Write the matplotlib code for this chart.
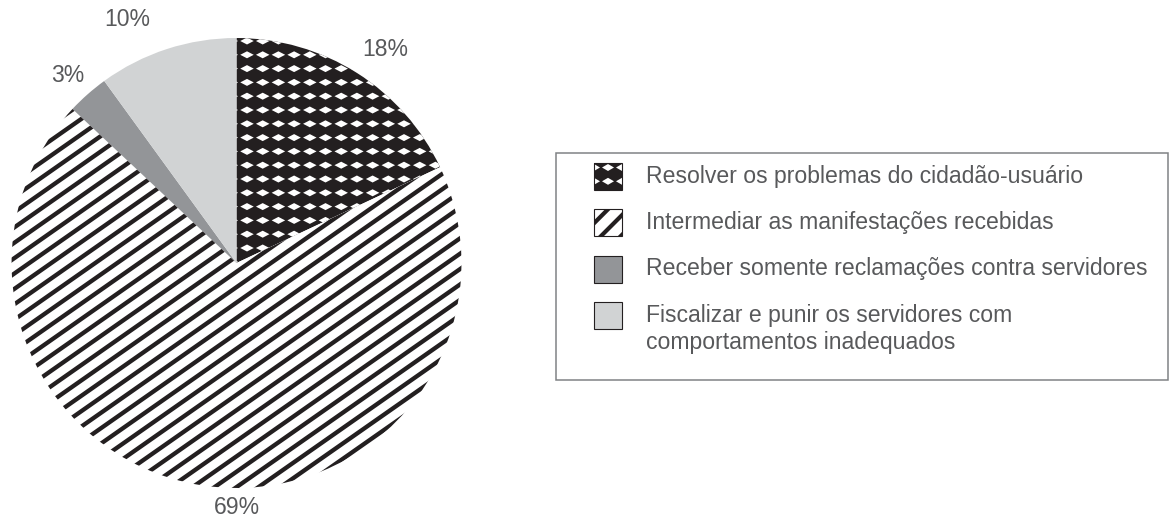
import numpy as np
import matplotlib
matplotlib.use("Agg")
import matplotlib.pyplot as plt
from matplotlib.patches import Rectangle
from matplotlib.collections import LineCollection, PolyCollection

plt.rcParams['font.family'] = ['Liberation Sans', 'DejaVu Sans']

# Data
categories = [
    "Resolver os problemas do cidadão-usuário",
    "Intermediar as manifestações recebidas",
    "Receber somente reclamações contra servidores",
    "Fiscalizar e punir os servidores com\ncomportamentos inadequados",
]
values = [18, 69, 3, 10]
pct_labels = ["18%", "69%", "3%", "10%"]
fills = ["#231f20", "white", "#939598", "#d1d3d4"]
patterns = ["diamonds", "stripes", None, None]

# Layout (pixel coordinates, y down)
W, H = 1171, 521
CX, CY, R = 236.5, 263, 225
label_pos = [(385, 50), (237, 507), (68, 76), (127, 19)]
TEXT_COLOR = "#58595b"
FS = 16.6


def diamond_coll(x0, x1, y0, y1, dx=15.7, dy=13.8, w=13.5, h=7.0):
    polys = []
    for yy in np.arange(y0, y1 + dy, dy):
        for xx in np.arange(x0, x1 + dx, dx):
            polys.append([(xx - w / 2, yy), (xx, yy - h / 2), (xx + w / 2, yy), (xx, yy + h / 2)])
    return PolyCollection(polys, facecolors="white", edgecolors="none")


def stripe_coll(cx, cy, size, angle=35, spacing=12.6, lw=3.1, phase=0.0):
    a = np.radians(angle)
    u = np.array([np.cos(a), -np.sin(a)])
    n = np.array([np.sin(a), np.cos(a)])
    segs = []
    for k in np.arange(-size, size + spacing, spacing):
        p = np.array([cx, cy]) + n * (k + phase)
        segs.append([p - u * size * 1.5, p + u * size * 1.5])
    return LineCollection(segs, colors="#231f20", linewidths=lw, capstyle="butt")


fig = plt.figure(figsize=(W / 100, H / 100), dpi=100)
ax = fig.add_axes([0, 0, 1, 1])

wedges, _ = ax.pie(values, center=(CX, CY), radius=R, startangle=-90,
                   counterclock=True, colors=fills, frame=True,
                   wedgeprops=dict(linewidth=0))

for wdg, pat in zip(wedges, patterns):
    if pat == "diamonds":
        coll = diamond_coll(CX - R, CX + R, CY - R + 3, CY + R)
    elif pat == "stripes":
        coll = stripe_coll(CX, CY, R * 1.2)
    else:
        continue
    ax.add_collection(coll)
    coll.set_clip_path(wdg)

for (lx, ly), lab in zip(label_pos, pct_labels):
    ax.text(lx, ly, lab, fontsize=FS, color=TEXT_COLOR, ha="center", va="center")

# Legend box
ax.add_patch(Rectangle((556, 153), 612, 227, facecolor="none",
                       edgecolor="#808285", linewidth=1.1))
row_y = [176, 222, 269, 315]
LINE_GAP = 28
PX, PW, PH = 594, 28, 27
for yy, lab, col, pat in zip(row_y, categories, fills, patterns):
    box = Rectangle((PX, yy - PH / 2), PW, PH, facecolor=col, edgecolor="none")
    ax.add_patch(box)
    if pat == "diamonds":
        coll = diamond_coll(PX, PX + PW, yy - PH / 2 + 5, yy + PH / 2, dx=14, w=12, h=7)
        ax.add_collection(coll)
        coll.set_clip_path(box)
    elif pat == "stripes":
        coll = stripe_coll(PX + PW / 2, yy, 30, angle=45, spacing=14, lw=3.0, phase=-7)
        ax.add_collection(coll)
        coll.set_clip_path(box)
    ax.add_patch(Rectangle((PX, yy - PH / 2), PW, PH, facecolor="none",
                           edgecolor="#231f20", linewidth=0.8))
    nlines = lab.count("\n")
    ax.text(646, yy + nlines * LINE_GAP / 2, lab, fontsize=FS, color=TEXT_COLOR,
            ha="left", va="center", linespacing=1.2)

ax.set_xlim(0, W)
ax.set_ylim(H, 0)
ax.set_aspect("equal")
ax.axis("off")

fig.savefig("out.png", dpi=100)
